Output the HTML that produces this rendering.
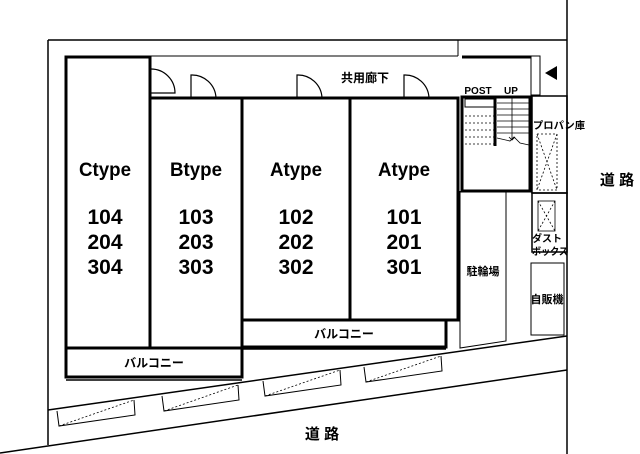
<!DOCTYPE html>
<html><head><meta charset="utf-8"><style>html,body{margin:0;padding:0;background:#fff}svg{display:block}</style></head><body>
<svg width="640" height="454" viewBox="0 0 640 454" xmlns="http://www.w3.org/2000/svg" font-family="'Liberation Sans','Noto Sans CJK JP',sans-serif">
<rect width="640" height="454" fill="#fff"/>
<g stroke="#000" fill="none">
<line x1="48" y1="40" x2="567" y2="40" stroke-width="1.5"/>
<line x1="48" y1="40" x2="48" y2="445" stroke-width="1.5"/>
<line x1="567" y1="0" x2="567" y2="454" stroke-width="1.5"/>
<line x1="48" y1="410" x2="567" y2="336" stroke-width="1.5"/>
<line x1="0" y1="453" x2="567" y2="370" stroke-width="1.5"/>
<line x1="150" y1="56" x2="458" y2="56" stroke-width="1"/>
<line x1="458" y1="40" x2="458" y2="56" stroke-width="1"/>
<rect x="66" y="57" width="84" height="291" stroke-width="3"/>
<line x1="150" y1="98" x2="458" y2="98" stroke-width="3"/>
<rect x="150" y="98" width="92" height="250" stroke-width="3"/>
<rect x="242" y="98" width="108" height="222" stroke-width="3"/>
<rect x="350" y="98" width="108" height="222" stroke-width="3"/>
<rect x="66" y="348" width="176" height="29" stroke-width="3"/>
<line x1="66" y1="380" x2="242" y2="380" stroke-width="1.5"/>
<rect x="242" y="320" width="204" height="27" stroke-width="3"/>
<line x1="242" y1="349" x2="446" y2="349" stroke-width="1.5"/>
<path d="M151 69 A24 24 0 0 1 175 93 L151 93" stroke-width="1.2"/>
<path d="M191 98 L191 75 A24 24 0 0 1 216 98" stroke-width="1.2"/>
<path d="M297 98 L297 75 A24 24 0 0 1 322 98" stroke-width="1.2"/>
<path d="M404 98 L404 75 A24 24 0 0 1 429 98" stroke-width="1.2"/>
<line x1="462" y1="57" x2="531" y2="57" stroke-width="3"/>
<rect x="531" y="56" width="9" height="39" stroke-width="1"/>
<rect x="462" y="97" width="68" height="94" stroke-width="3"/>
<line x1="495" y1="97" x2="495" y2="146" stroke-width="3"/>
<rect x="465" y="99" width="29" height="8" stroke-width="1"/>
<g stroke-dasharray="2,2" stroke-width="0.8"><line x1="465" y1="116" x2="494" y2="116"/><line x1="465" y1="123" x2="494" y2="123"/><line x1="465" y1="130" x2="494" y2="130"/><line x1="465" y1="137" x2="494" y2="137"/><line x1="465" y1="144" x2="494" y2="144"/></g>
<g stroke-width="0.8"><line x1="497" y1="103" x2="529" y2="103"/><line x1="497" y1="109" x2="529" y2="109"/><line x1="497" y1="115" x2="529" y2="115"/><line x1="497" y1="121" x2="529" y2="121"/><line x1="497" y1="127" x2="529" y2="127"/><line x1="497" y1="133" x2="529" y2="133"/><line x1="512" y1="97" x2="512" y2="140"/><path d="M497 138 L510 141 L514 137 L520 143 L529 145"/><path d="M509 137 L512 140 L515 137"/></g>
<rect x="532" y="96" width="35" height="97" stroke-width="1.5"/>
<rect x="537" y="134" width="20" height="56" stroke-width="0.8" stroke-dasharray="2,2"/>
<path d="M537 134 L557 190 M557 134 L537 190" stroke-width="0.8" stroke-dasharray="2,2"/>
<rect x="532" y="193" width="35" height="59" stroke-width="1.5"/>
<rect x="538" y="201" width="17" height="30" stroke-width="0.8"/>
<path d="M538 201 L555 231 M555 201 L538 231" stroke-width="0.8" stroke-dasharray="2,2"/>
<rect x="531" y="263" width="33" height="72" stroke-width="1"/>
<path d="M460 191 L460 348 L506 341 L506 191" stroke-width="1"/>
</g>
<g stroke="#000" fill="none" stroke-width="1">
<path d="M57 411 L59 426 L135 415 L134 400"/>
<path d="M162 396 L164 411 L239 400 L238 385"/>
<path d="M263 381 L265 396 L341 385 L340 370"/>
<path d="M364 367 L366 382 L442 371 L441 356"/>
<g stroke-dasharray="2,2" stroke-width="0.8"><line x1="59" y1="426" x2="134" y2="400"/><line x1="164" y1="411" x2="238" y2="385"/><line x1="265" y1="396" x2="340" y2="370"/><line x1="366" y1="382" x2="441" y2="356"/></g>
</g>
<polygon points="545,73 557,66 557,80" fill="#000"/>
<g fill="#000" font-weight="bold" text-anchor="middle">
<text x="105" y="176" font-size="19" textLength="52" lengthAdjust="spacingAndGlyphs">Ctype</text>
<text x="196" y="176" font-size="19" textLength="52" lengthAdjust="spacingAndGlyphs">Btype</text>
<text x="296" y="176" font-size="19" textLength="52" lengthAdjust="spacingAndGlyphs">Atype</text>
<text x="404" y="176" font-size="19" textLength="52" lengthAdjust="spacingAndGlyphs">Atype</text>
<g font-size="21">
<text x="105" y="224">104</text><text x="105" y="249">204</text><text x="105" y="274">304</text>
<text x="196" y="224">103</text><text x="196" y="249">203</text><text x="196" y="274">303</text>
<text x="296" y="224">102</text><text x="296" y="249">202</text><text x="296" y="274">302</text>
<text x="404" y="224">101</text><text x="404" y="249">201</text><text x="404" y="274">301</text>
</g>
<text x="365" y="82" font-size="12">共用廊下</text>
<text x="478" y="94" font-size="10">POST</text>
<text x="511" y="94" font-size="10">UP</text>
<text x="559" y="129" font-size="10" textLength="52" lengthAdjust="spacingAndGlyphs">プロパン庫</text>
<text x="547" y="242" font-size="10">ダスト</text>
<text x="550" y="255" font-size="10" textLength="36" lengthAdjust="spacingAndGlyphs">ボックス</text>
<text x="483" y="275" font-size="11">駐輪場</text>
<text x="547" y="303" font-size="11">自販機</text>
<text x="154" y="367" font-size="12">バルコニー</text>
<text x="344" y="338" font-size="12">バルコニー</text>
<text x="617" y="185" font-size="15">道 路</text>
<text x="322" y="439" font-size="15">道 路</text>
</g>
</svg>
</body></html>
